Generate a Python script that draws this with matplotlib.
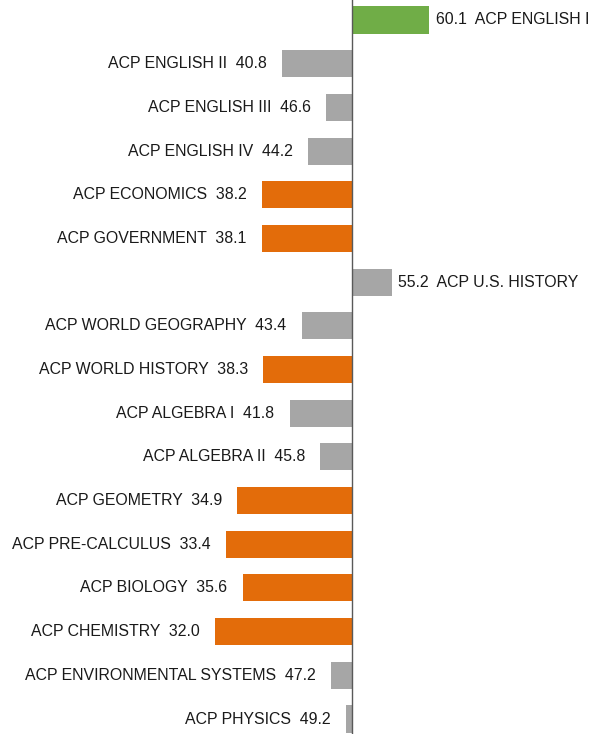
import matplotlib.pyplot as plt
import numpy as np

plt.rcParams['font.family'] = ['Liberation Sans', 'DejaVu Sans']

courses = ["ACP ENGLISH I", "ACP ENGLISH II", "ACP ENGLISH III", "ACP ENGLISH IV",
           "ACP ECONOMICS", "ACP GOVERNMENT", "ACP U.S. HISTORY",
           "ACP WORLD GEOGRAPHY", "ACP WORLD HISTORY", "ACP ALGEBRA I",
           "ACP ALGEBRA II", "ACP GEOMETRY", "ACP PRE-CALCULUS", "ACP BIOLOGY",
           "ACP CHEMISTRY", "ACP ENVIRONMENTAL SYSTEMS", "ACP PHYSICS"]
scores = [60.1, 40.8, 46.6, 44.2, 38.2, 38.1, 55.2, 43.4, 38.3, 41.8,
          45.8, 34.9, 33.4, 35.6, 32.0, 47.2, 49.2]
base = 50

def bar_color(v):
    if v >= 60:
        return '#70AD47'
    if v < 40:
        return '#E36C0A'
    return '#A6A6A6'

fig = plt.figure(figsize=(5.92, 7.34), dpi=100)
ax = fig.add_axes([0, 0, 1, 1])

y = np.arange(len(scores))
widths = [s - base for s in scores]
ax.barh(y, widths, left=base, height=0.62, color=[bar_color(s) for s in scores])
ax.axvline(base, color='#595959', lw=1)

for yi, name, s in zip(y, courses, scores):
    if s >= base:
        ax.annotate(f"{s:.1f}  {name}", (s, yi), xytext=(5, 0), textcoords='offset points',
                    ha='left', va='center', fontsize=11.4, color='#1a1a1a')
    else:
        ax.annotate(f"{name}  {s:.1f}", (s, yi), xytext=(-11, 0), textcoords='offset points',
                    ha='right', va='center', fontsize=11.4, color='#1a1a1a')

px = 7.6
ax.set_xlim(base - 352 / px, base + 240 / px)
ax.set_ylim(16 + 15 / 43.7, -20 / 43.7)
ax.axis('off')

fig.savefig('out.png', dpi=100)
